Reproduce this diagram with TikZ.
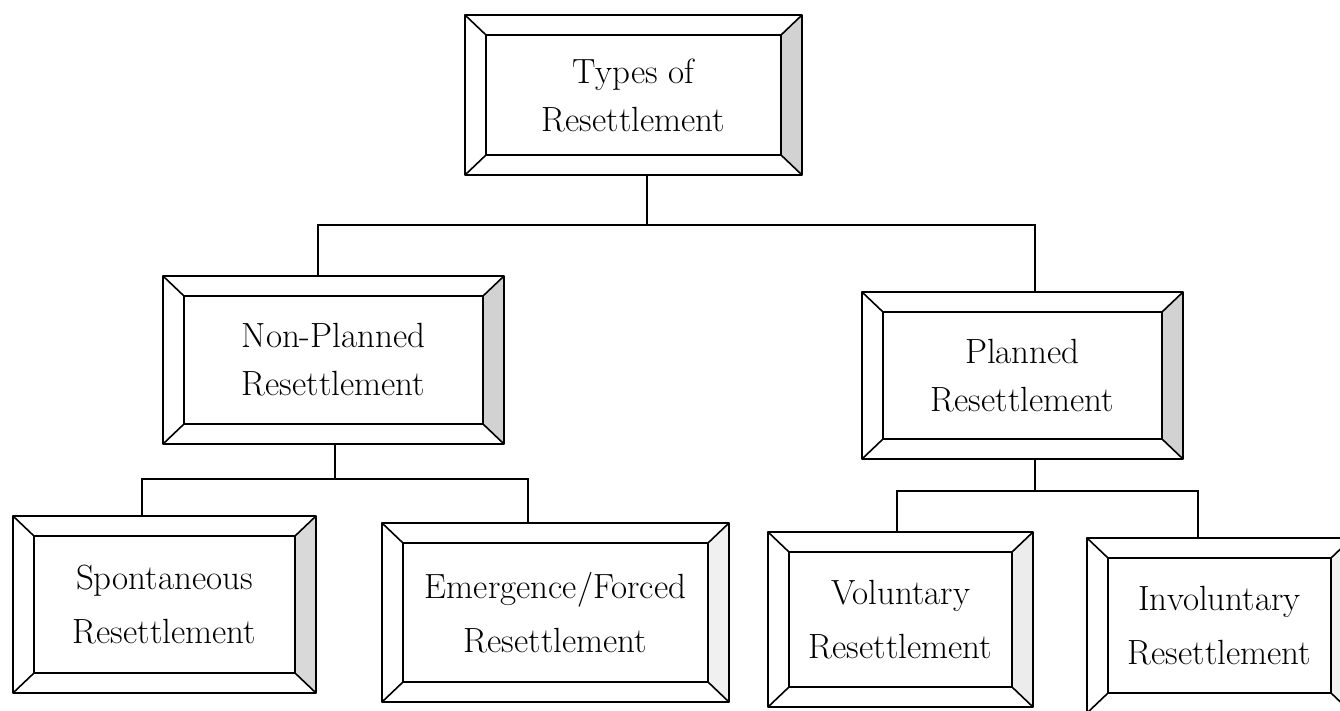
\documentclass[tikz,border=0pt]{standalone}
\tikzset{
  conn/.style={line width=1.5pt, black},
  frame/.style={line width=1.6pt, black, line join=round},
  boxtext/.style={align=center, font=\fontsize{35}{48}\selectfont},
  lowtext/.style={align=center, font=\fontsize{35}{54}\selectfont},
}
\newcommand\bevelbox[8]{%
  % #1 name, #2 x1, #3 y1, #4 x2, #5 y2, #6 shade, #7 text style, #8 text
  \pgfmathsetmacro\bxw{#4-#2}%
  \pgfmathsetmacro\bxh{#5-#3}%
  \pgfmathsetmacro\bxiw{#4-#2-42}%
  \pgfmathsetmacro\bxih{#5-#3-40}%
  \pgfmathsetmacro\bxcx{(#2+#4)/2}%
  \pgfmathsetmacro\bxcy{(#3+#5)/2}%
  \node[inner sep=0pt, outer sep=0pt, minimum width=\bxw pt, minimum height=\bxh pt] (#1) at (\bxcx,\bxcy) {};
  \node[#7, inner sep=0pt, outer sep=0pt, minimum width=\bxiw pt, minimum height=\bxih pt] (#1-i) at (\bxcx,\bxcy) {#8};
  \fill[#6] (#1.north east) -- (#1-i.north east) -- (#1-i.south east) -- (#1.south east) -- cycle;
  \draw[frame] (#1.north west) rectangle (#1.south east);
  \draw[frame] (#1-i.north west) rectangle (#1-i.south east);
  \draw[frame] (#1.north west) -- (#1-i.north west);
  \draw[frame] (#1.north east) -- (#1-i.north east);
  \draw[frame] (#1.south west) -- (#1-i.south west);
  \draw[frame] (#1.south east) -- (#1-i.south east);
}
\begin{document}
\begin{tikzpicture}[x=1pt, y=-1pt]
\useasboundingbox (0,0) rectangle (1340,710);
\clip (0,0) rectangle (1340,710);
\fill[white] (0,0) rectangle (1340,710);

% boxes
\bevelbox{top}{465}{15}{802}{175}{gray!35}{boxtext}{Types of\\Resettlement}
\bevelbox{np}{163}{276}{504}{444}{gray!35}{boxtext}{Non-Planned\\Resettlement}
\bevelbox{pl}{862}{292}{1183}{459}{gray!35}{boxtext}{Planned\\Resettlement}
\bevelbox{sp}{13}{516}{316}{693}{gray!30}{lowtext}{Spontaneous\\Resettlement}
\bevelbox{em}{382}{523}{729}{702}{gray!12}{lowtext}{Emergence/Forced\\Resettlement}
\bevelbox{vo}{768}{532}{1033}{707}{gray!15}{lowtext}{Voluntary\\Resettlement}
\bevelbox{in}{1087}{538}{1352}{713}{gray!10}{lowtext}{Involuntary\\Resettlement}

% junction coordinates
\coordinate (s0) at (647,225);
\coordinate (hL) at (318,225);
\coordinate (hR) at (1035,225);
\coordinate (s1) at (335,479);
\coordinate (h1L) at (142,479);
\coordinate (h1R) at (528,479);
\coordinate (s2) at (1035,491);
\coordinate (h2L) at (897,491);
\coordinate (h2R) at (1198,491);

% connectors
\draw[conn] (s0 |- top.south) -- (s0);
\draw[conn] (hL |- np.north) -- (hL) -- (hR) -- (hR |- pl.north);

\draw[conn] (s1 |- np.south) -- (s1);
\draw[conn] (h1L |- sp.north) -- (h1L) -- (h1R) -- (h1R |- em.north);

\draw[conn] (s2 |- pl.south) -- (s2);
\draw[conn] (h2L |- vo.north) -- (h2L) -- (h2R) -- (h2R |- in.north);
\end{tikzpicture}
\end{document}
